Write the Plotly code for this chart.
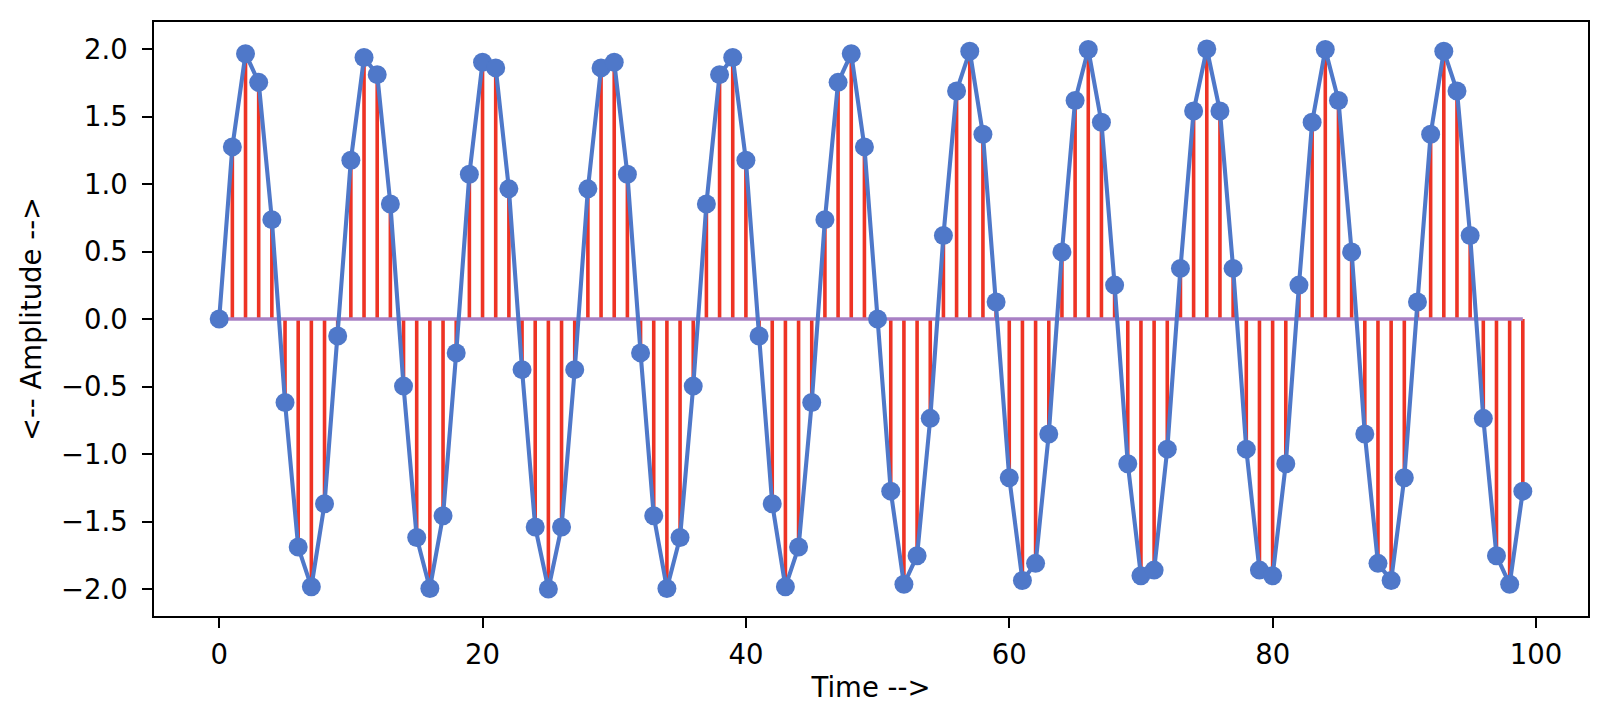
import plotly.graph_objects as go

n = list(range(100))
amplitude = [
    0.000, 1.275, 1.965, 1.753, 0.736, -0.618, -1.689, -1.984, -1.369, -0.126,
    1.176, 1.937, 1.810, 0.852, -0.497, -1.618, -1.996, -1.458, -0.251, 1.072,
    1.902, 1.860, 0.964, -0.375, -1.541, -2.000, -1.541, -0.375, 0.964, 1.860,
    1.902, 1.072, -0.251, -1.458, -1.996, -1.618, -0.497, 0.852, 1.810, 1.937,
    1.176, -0.126, -1.369, -1.984, -1.689, -0.618, 0.736, 1.753, 1.965, 1.275,
    0.000, -1.275, -1.965, -1.753, -0.736, 0.618, 1.689, 1.984, 1.369, 0.126,
    -1.176, -1.937, -1.810, -0.852, 0.497, 1.618, 1.996, 1.458, 0.251, -1.072,
    -1.902, -1.860, -0.964, 0.375, 1.541, 2.000, 1.541, 0.375, -0.964, -1.860,
    -1.902, -1.072, 0.251, 1.458, 1.996, 1.618, 0.497, -0.852, -1.810, -1.937,
    -1.176, 0.126, 1.369, 1.984, 1.689, 0.618, -0.736, -1.753, -1.965, -1.275,
]
x_ticks = [0, 20, 40, 60, 80, 100]
y_ticks = [-2.0, -1.5, -1.0, -0.5, 0.0, 0.5, 1.0, 1.5, 2.0]

FONT = "DejaVu Sans"
FS = 27.5
# page body has an 8px margin, so the figure is sized to fit inside the window
W, H = 1596, 702
L, R, T, B = 146, 16, 14, 87

# stems: one segment per sample, split with None
stem_x, stem_y = [], []
for xi, yi in zip(n, amplitude):
    stem_x += [xi, xi, None]
    stem_y += [0, yi, None]

fig = go.Figure()

fig.add_trace(go.Scatter(
    x=stem_x, y=stem_y, mode='lines',
    line=dict(color='#ee3324', width=3.6),
    hoverinfo='skip', showlegend=False
))

# baseline
fig.add_trace(go.Scatter(
    x=[n[0], n[-1]], y=[0, 0], mode='lines',
    line=dict(color='#a880c4', width=3.6),
    hoverinfo='skip', showlegend=False
))

# signal line + markers
fig.add_trace(go.Scatter(
    x=n, y=amplitude, mode='lines+markers',
    line=dict(color='#4f78c9', width=4.1),
    marker=dict(color='#4f78c9', size=19),
    showlegend=False
))

axis_common = dict(
    showline=True, linecolor='black', linewidth=2.2, mirror=True,
    ticks='outside', ticklen=9.7, tickwidth=2.2, tickcolor='black',
    showgrid=False, zeroline=False,
    tickfont=dict(family=FONT, size=FS, color='black'),
)

fig.update_xaxes(
    range=[-4.95, 103.95], tickvals=x_ticks,
    title=dict(text='Time -->', font=dict(family=FONT, size=FS, color='black'), standoff=9),
    ticklabelstandoff=3,
    **axis_common
)
fig.update_yaxes(
    range=[-2.2, 2.2], tickvals=y_ticks, tickformat='.1f',
    title=dict(text='<-- Amplitude -->', font=dict(family=FONT, size=FS, color='black'), standoff=11),
    ticklabelstandoff=9,
    **axis_common
)

fig.update_layout(
    width=W, height=H,
    margin=dict(l=L, r=R, t=T, b=B),
    plot_bgcolor='white', paper_bgcolor='white',
    font=dict(family=FONT, color='black'),
    hovermode='closest',
)

fig.write_html("out.html")
